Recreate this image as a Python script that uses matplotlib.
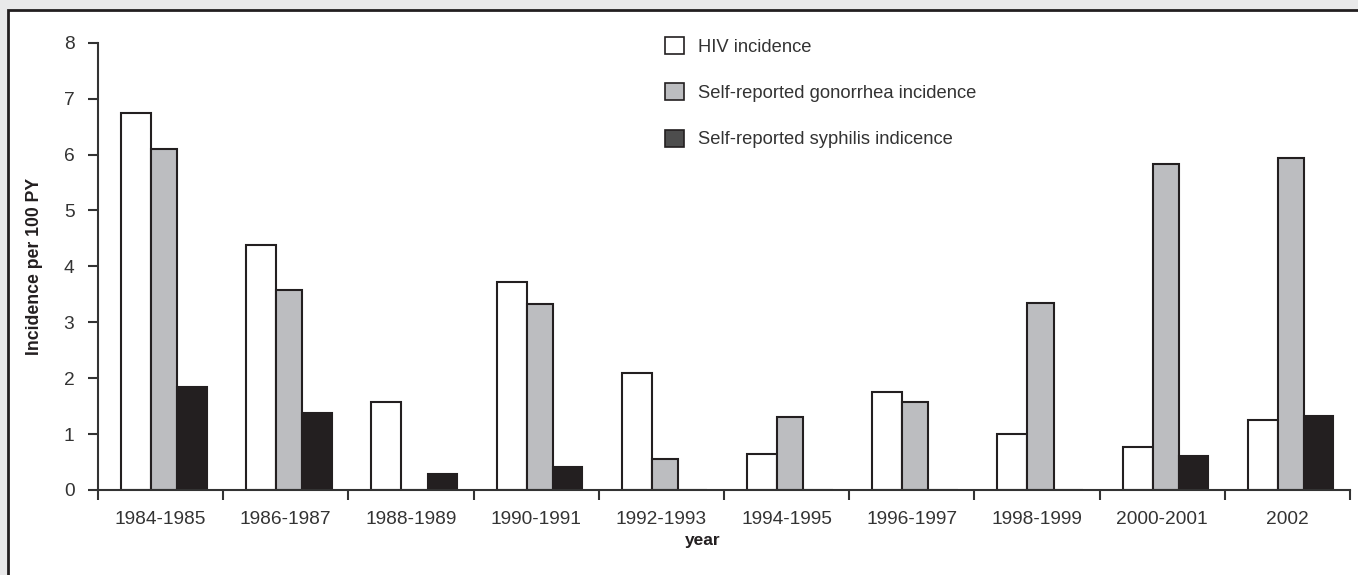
import matplotlib
matplotlib.use("Agg")
import matplotlib.pyplot as plt
from matplotlib.patches import Patch, Rectangle
import numpy as np

categories = ["1984-1985", "1986-1987", "1988-1989", "1990-1991", "1992-1993",
              "1994-1995", "1996-1997", "1998-1999", "2000-2001", "2002"]
hiv = [6.75, 4.38, 1.58, 3.72, 2.09, 0.65, 1.76, 1.01, 0.77, 1.26]
gonorrhea = [6.10, 3.58, 0.0, 3.33, 0.55, 1.31, 1.58, 3.35, 5.83, 5.94]
syphilis = [1.84, 1.38, 0.29, 0.41, 0.0, 0.0, 0.0, 0.0, 0.60, 1.33]
series_labels = ["HIV incidence", "Self-reported gonorrhea incidence",
                 "Self-reported syphilis indicence"]

plt.rcParams['font.family'] = ['Liberation Sans', 'DejaVu Sans']

dark = "#231f20"
gray = "#bcbdc0"
axcol = "#333333"

fig = plt.figure(figsize=(13.58, 5.75), dpi=100)
fig.patch.set_facecolor("#e9e9ea")
# white inner panel
panel = Rectangle((8/1358, -0.05), 1.1, 1 - 10/575 + 0.05, transform=fig.transFigure,
                  facecolor="white", edgecolor=dark, linewidth=2.0, zorder=-10)
fig.patches.append(panel)

ax = fig.add_axes([98/1358, 1 - 490/575, (1350 - 98)/1358, (490 - 42.7)/575])
ax.set_zorder(1)
ax.set_facecolor("none")

x = np.arange(len(categories))
lw = 1.5
ax.bar(x + 0.183, hiv, width=0.24, align='edge', color="white", edgecolor=dark, linewidth=lw, zorder=2)
ax.bar(x + 0.423, gonorrhea, width=0.21, align='edge', color=gray, edgecolor=dark, linewidth=lw, zorder=2)
ax.bar(x + 0.633, syphilis, width=0.235, align='edge', color=dark, edgecolor=dark, linewidth=lw, zorder=2)

ax.set_xlim(0, len(categories))
ax.set_ylim(0, 8)
for s in ["top", "right"]:
    ax.spines[s].set_visible(False)
for s in ["left", "bottom"]:
    ax.spines[s].set_color(axcol)
    ax.spines[s].set_linewidth(1.5)
    ax.spines[s].set_zorder(3)

ax.set_yticks(range(0, 9))
ax.tick_params(axis='y', direction='out', length=7, width=1.5, color=axcol,
               labelsize=13.8, labelcolor=axcol, pad=10)
ax.set_xticks(x + 0.5)
ax.set_xticklabels(categories)
ax.tick_params(axis='x', which='major', length=0, labelsize=13.8, labelcolor=axcol, pad=15)
ax.set_xticks(np.arange(len(categories) + 1), minor=True)
ax.tick_params(axis='x', which='minor', direction='out', length=7, width=1.5, color=axcol)

fig.text(703/1358, 1 - 541/575, "year", ha='center', va='center', fontsize=12.5,
         fontweight='bold', color=dark)
fig.text(35/1358, 1 - 266/575, "Incidence per 100 PY", ha='center', va='center',
         rotation=90, fontsize=12.7, fontweight='bold', color=dark)

handles = [Patch(facecolor="white", edgecolor=dark, linewidth=1.2),
           Patch(facecolor=gray, edgecolor=dark, linewidth=1.2),
           Patch(facecolor="#4d4d4d", edgecolor=dark, linewidth=1.2)]
leg = ax.legend(handles, series_labels, loc='upper left',
                bbox_to_anchor=(665/1358, 1 - 37/575), bbox_transform=fig.transFigure,
                frameon=False, fontsize=13.2, handlelength=1.05, handleheight=1.05,
                handletextpad=0.75, labelspacing=1.5, borderaxespad=0, borderpad=0)
for t in leg.get_texts():
    t.set_color(axcol)

fig.savefig("out.png", dpi=100, facecolor=fig.get_facecolor())
